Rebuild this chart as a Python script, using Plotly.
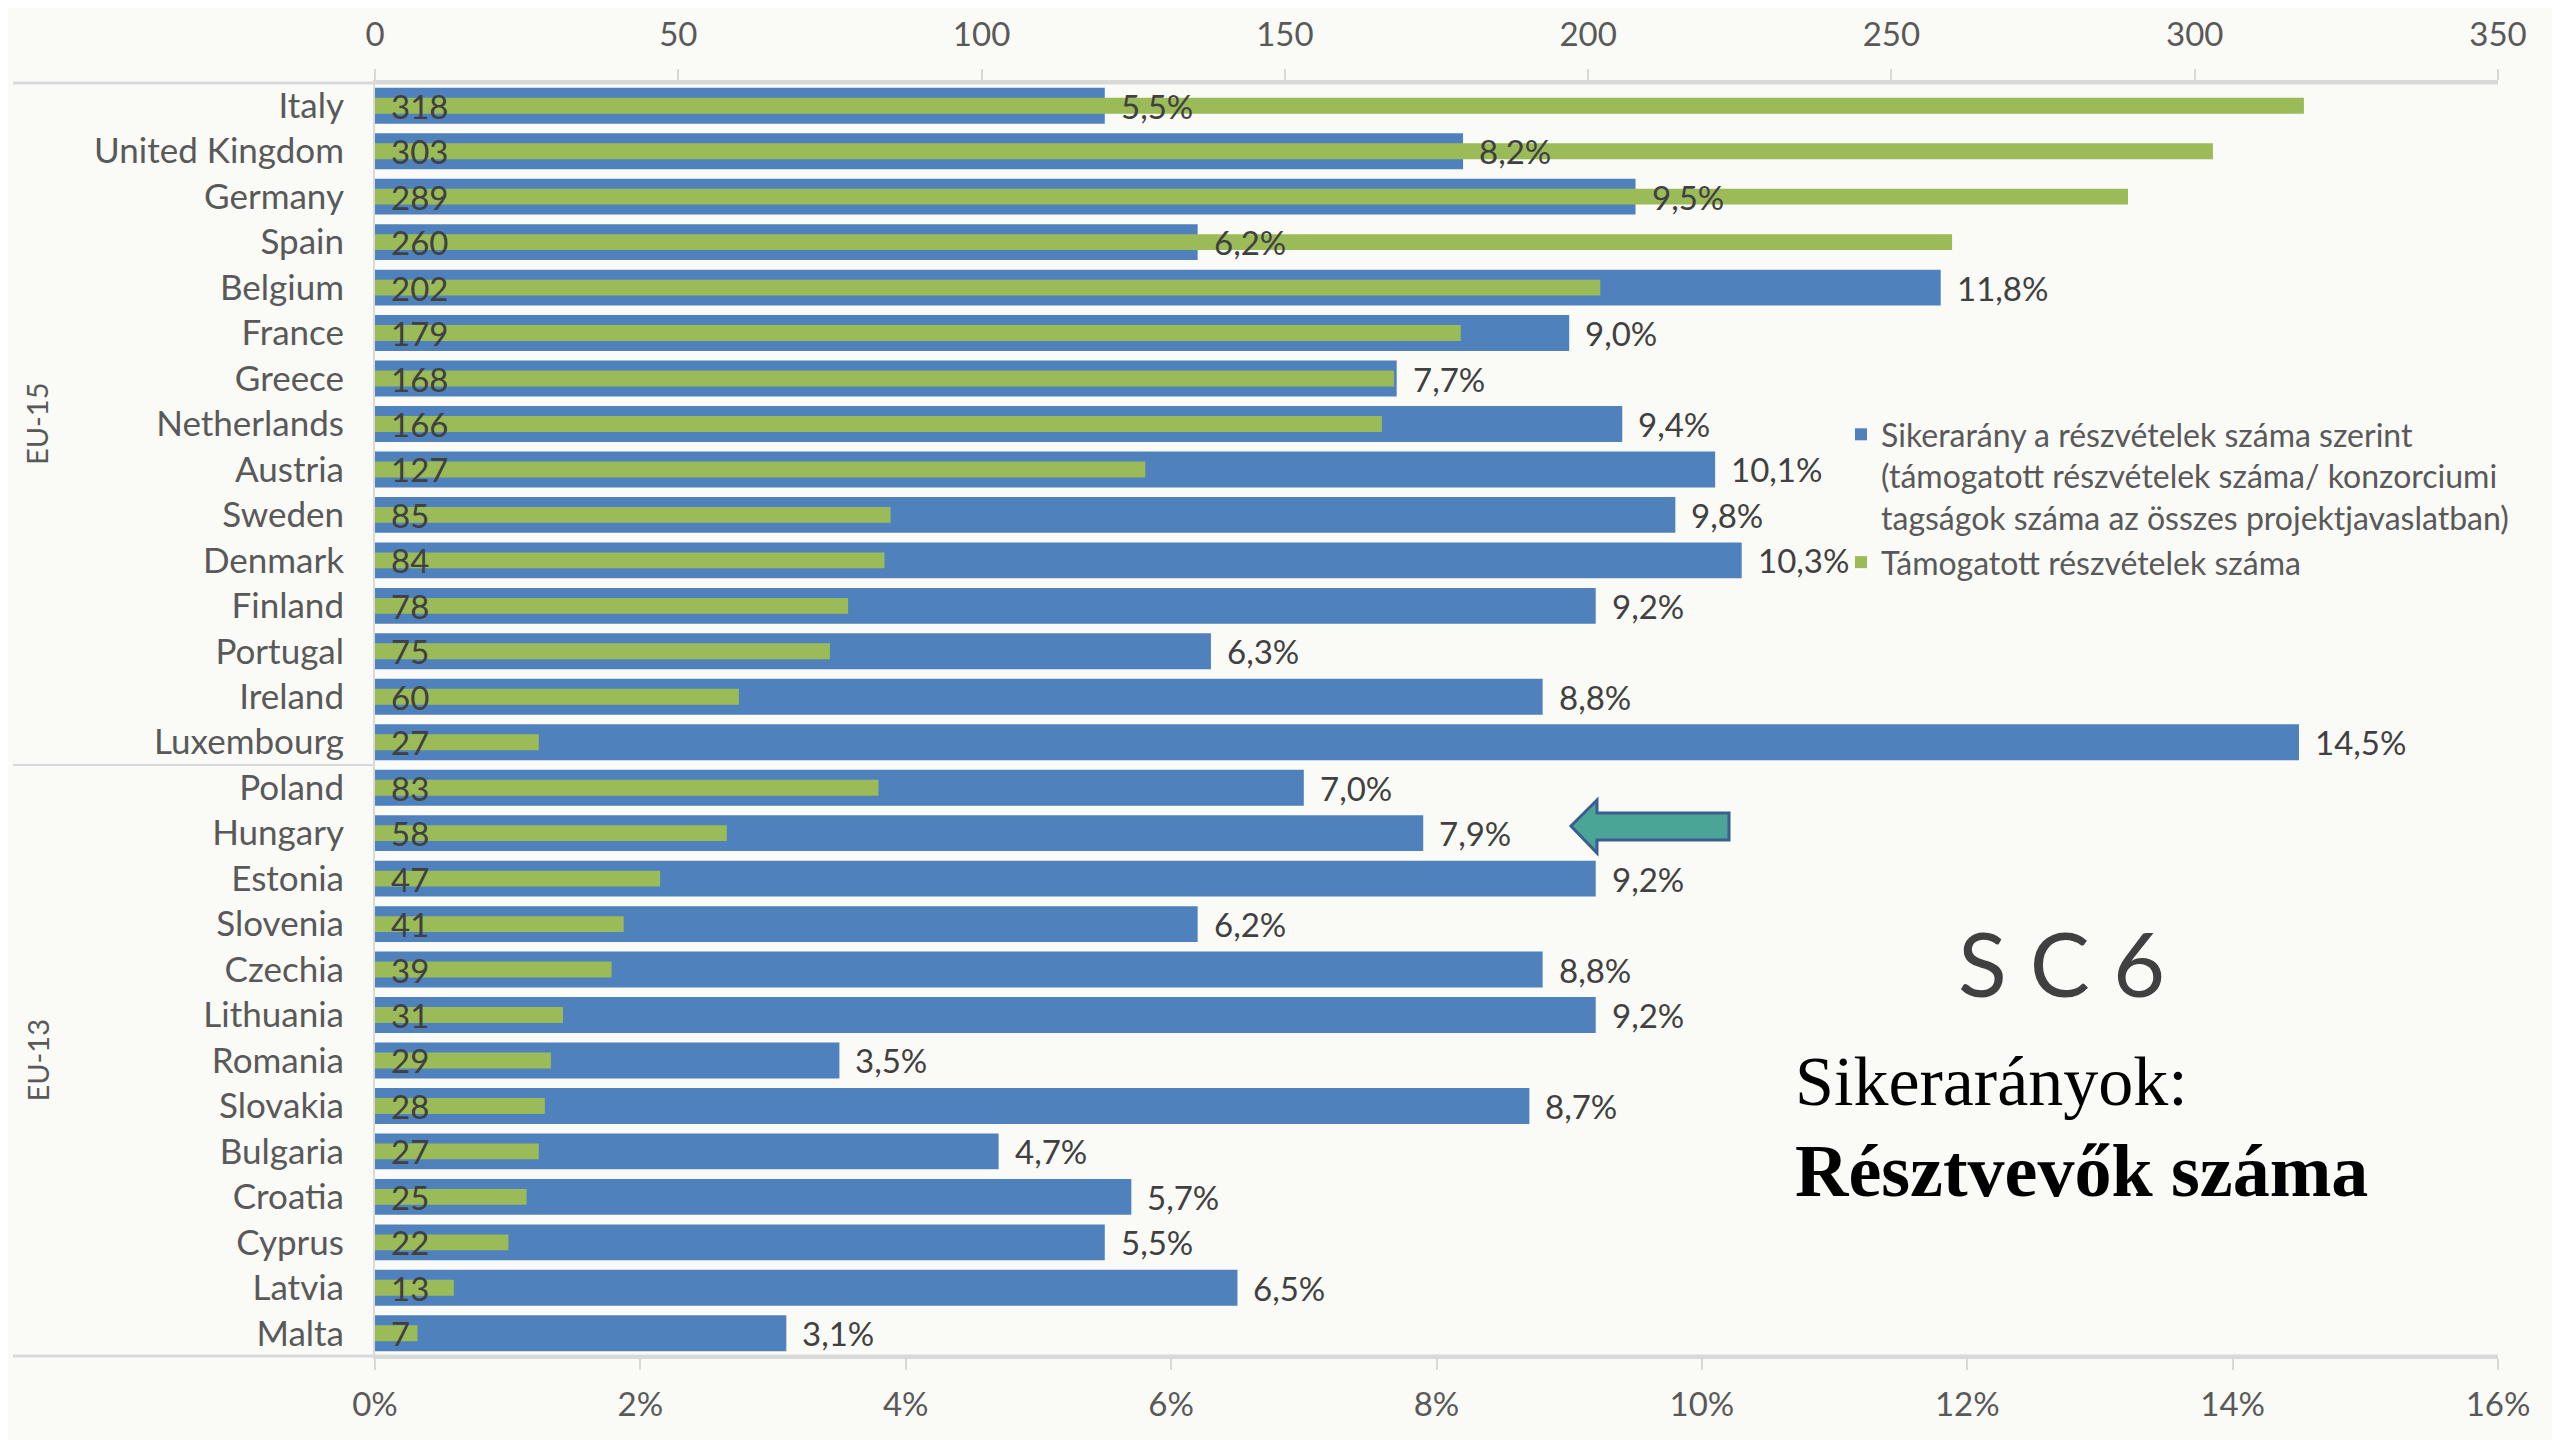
import plotly.graph_objects as go

countries = ["Italy", "United Kingdom", "Germany", "Spain", "Belgium", "France", "Greece",
             "Netherlands", "Austria", "Sweden", "Denmark", "Finland", "Portugal", "Ireland",
             "Luxembourg",
             "Poland", "Hungary", "Estonia", "Slovenia", "Czechia", "Lithuania", "Romania",
             "Slovakia", "Bulgaria", "Croatia", "Cyprus", "Latvia", "Malta"]
participations = [318, 303, 289, 260, 202, 179, 168, 166, 127, 85, 84, 78, 75, 60, 27,
                  83, 58, 47, 41, 39, 31, 29, 28, 27, 25, 22, 13, 7]
success_rate = [5.5, 8.2, 9.5, 6.2, 11.8, 9.0, 7.7, 9.4, 10.1, 9.8, 10.3, 9.2, 6.3, 8.8, 14.5,
                7.0, 7.9, 9.2, 6.2, 8.8, 9.2, 3.5, 8.7, 4.7, 5.7, 5.5, 6.5, 3.1]
groups = ["EU-15", "EU-13"]
group_sizes = [15, 13]
count_ticks = [0, 50, 100, 150, 200, 250, 300, 350]
pct_ticks = [0, 2, 4, 6, 8, 10, 12, 14, 16]
pct_ticktext = [f"{v}%" for v in pct_ticks]
legend_blue = ("Sikerarány a részvételek száma szerint<br>(támogatott részvételek száma/ "
               "konzorciumi<br>tagságok száma az összes projektjavaslatban)")
legend_green = "Támogatott részvételek száma"

# page body adds an 8px offset; figure is sized so that the plot area lands where intended
OFF = 8
W, H = 2560 - OFF, 1440 - OFF
PL, PT, PR, PB = 375, 83, 2498, 1356          # plot area in screen pixels
L, T = PL - OFF, PT - OFF
R, B = W - (PR - OFF), H - (PB - OFF)
PW, PH = PR - PL, PB - PT

def px(x):
    return (x - PL) / PW

def py(y):
    return 1 - (y - PT) / PH

BLUE = "#4f81bd"
GREEN = "#9bbb59"
BG = "#fafaf6"
TXT = "#595959"
DARK = "#404040"
GRID = "#d9d9d9"
FONT = "Lato, 'Open Sans', sans-serif"
SERIF = "'Liberation Serif', 'DejaVu Serif', serif"

fig = go.Figure()
fig.add_trace(go.Bar(
    y=countries, x=success_rate, orientation="h", xaxis="x", yaxis="y",
    marker=dict(color=BLUE, line=dict(width=0)), width=0.79, name=legend_blue,
    hoverinfo="skip"))
fig.add_trace(go.Bar(
    y=countries, x=participations, orientation="h", xaxis="x2", yaxis="y",
    marker=dict(color=GREEN, line=dict(width=0)), width=0.35, name=legend_green,
    hoverinfo="skip"))

annotations = []
for c, v in zip(countries, participations):
    annotations.append(dict(x=0, y=c, xref="x2", yref="y", text=str(v), showarrow=False,
                            xanchor="left", xshift=14, font=dict(size=33, color=DARK, family=FONT)))
for c, v in zip(countries, success_rate):
    annotations.append(dict(x=v, y=c, xref="x", yref="y", text=f"{v:.1f}".replace(".", ",") + "%",
                            showarrow=False, xanchor="left", xshift=14,
                            font=dict(size=33, color=DARK, family=FONT)))
start = 0
shapes = []
for g, n in zip(groups, group_sizes):
    annotations.append(dict(x=px(37), y=start + (n - 1) / 2, xref="paper", yref="y", text=g,
                            textangle=-90, showarrow=False, xanchor="center", yanchor="middle",
                            font=dict(size=29, color=TXT, family=FONT)))
    start += n
    if start < len(countries):
        shapes.append(dict(type="line", xref="paper", yref="y", x0=px(13), x1=0,
                           y0=start - 0.5, y1=start - 0.5, line=dict(color=GRID, width=2)))

# axis line extensions to the left
for yy in (1, 0):
    shapes.append(dict(type="line", xref="paper", yref="paper", x0=px(13), x1=1, y0=yy, y1=yy,
                       line=dict(color=GRID, width=3)))

# decorative arrow pointing at Hungary
arrow_pts = [(1571, 826), (1597, 800), (1597, 813), (1729, 813), (1729, 840), (1597, 840), (1597, 853)]
path = "M " + " L ".join(f"{px(a):.5f},{py(b):.5f}" for a, b in arrow_pts) + " Z"
shapes.append(dict(type="path", xref="paper", yref="paper", path=path,
                   fillcolor="#4aa596", line=dict(color="#3b5d8f", width=3)))

annotations.append(dict(x=px(2061), y=py(962), xref="paper", yref="paper", text="S C 6",
                        showarrow=False, xanchor="center", yanchor="middle",
                        font=dict(size=90, color=DARK, family=FONT)))
annotations.append(dict(x=px(1793), y=py(1122), xref="paper", yref="paper", text="Sikerarányok:",
                        showarrow=False, xanchor="left", yanchor="bottom",
                        font=dict(size=70, color="#000000", family=SERIF)))
annotations.append(dict(x=px(1793), y=py(1214), xref="paper", yref="paper",
                        text="<b>Résztvevők száma</b>", showarrow=False, xanchor="left",
                        yanchor="bottom",
                        font=dict(size=74, color="#000000", family=SERIF)))

fig.update_layout(
    width=W, height=H, paper_bgcolor=BG, plot_bgcolor=BG,
    margin=dict(l=L, r=R, t=T, b=B, autoexpand=False),
    font=dict(family=FONT, color=TXT, size=33),
    showlegend=True,
    legend=dict(x=px(1841), y=py(407), xanchor="left", yanchor="top", valign="top",
                bgcolor="rgba(0,0,0,0)", font=dict(size=32, color=TXT, family=FONT),
                traceorder="normal"),
    xaxis=dict(range=[0, 16], tickmode="array", tickvals=pct_ticks, ticktext=pct_ticktext,
               side="bottom", automargin=False,
               showgrid=False, zeroline=False, showline=True, linecolor=GRID, linewidth=3,
               ticks="outside", ticklen=11, tickcolor=GRID, tickwidth=2,
               ticklabelstandoff=6, tickfont=dict(size=33, color=TXT)),
    xaxis2=dict(range=[0, 350], tickmode="array", tickvals=count_ticks, side="top",
                overlaying="x", automargin=False,
                showgrid=False, zeroline=False, showline=True, linecolor=GRID, linewidth=3,
                ticks="outside", ticklen=11, tickcolor=GRID, tickwidth=2,
                ticklabelstandoff=10, tickfont=dict(size=33, color=TXT)),
    yaxis=dict(type="category", autorange="reversed", showgrid=False, zeroline=False,
               automargin=False,
               showline=True, linecolor=GRID, linewidth=2, ticks="",
               ticklabelstandoff=22, tickfont=dict(size=35, color=TXT)),
    barmode="overlay",
    annotations=annotations, shapes=shapes,
)
fig.write_html("out.html")
